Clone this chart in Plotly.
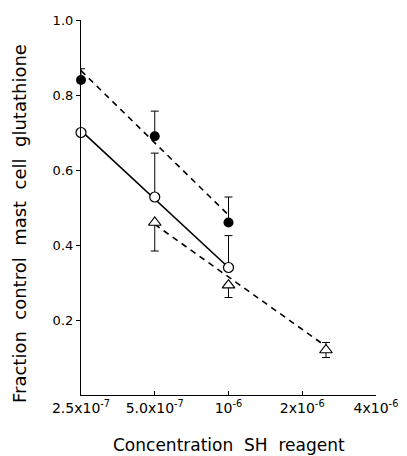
import numpy as np
import plotly.graph_objects as go

# Data
conc_filled = [2.5e-7, 5e-7, 1e-6]
frac_filled = [0.84, 0.69, 0.46]
err_filled_up = [0.03, 0.067, 0.068]
err_filled_dn = [0.0, 0.0, 0.0]

conc_open = [2.5e-7, 5e-7, 1e-6]
frac_open = [0.70, 0.528, 0.34]
err_open_up = [0.0, 0.117, 0.085]
err_open_dn = [0.0, 0.0, 0.0]

conc_tri = [5e-7, 1e-6, 2.5e-6]
frac_tri = [0.46, 0.293, 0.12]
err_tri_up = [0.0, 0.0, 0.02]
err_tri_dn = [0.076, 0.033, 0.02]

# fitted lines (endpoints)
fit_filled_x = [2.5e-7, 1e-6]
fit_filled_y = [0.865, 0.48]
fit_open_x = [2.5e-7, 1e-6]
fit_open_y = [0.705, 0.34]
fit_tri_x = [5e-7, 2.4e-6]
fit_tri_y = [0.455, 0.138]

xtick_vals = [2.5e-7, 5e-7, 1e-6, 2e-6, 4e-6]
xtick_text = ["2.5x10<sup>-7</sup>", "5.0x10<sup>-7</sup>", "10<sup>-6</sup>",
              "2x10<sup>-6</sup>", "4x10<sup>-6</sup>"]
ytick_vals = [0.2, 0.4, 0.6, 0.8, 1.0]
ytick_text = ["0.2", "0.4", "0.6", "0.8", "1.0"]

x_title = "Concentration  SH  reagent"
y_title = "Fraction  control  mast  cell  glutathione"

FONT = "DejaVu Sans"
fig = go.Figure()

fig.add_trace(go.Scatter(x=fit_filled_x, y=fit_filled_y, mode="lines",
                         line=dict(color="black", width=1.6, dash="6px,5px"),
                         showlegend=False, cliponaxis=False))
fig.add_trace(go.Scatter(x=fit_open_x, y=fit_open_y, mode="lines",
                         line=dict(color="black", width=1.6),
                         showlegend=False, cliponaxis=False))
fig.add_trace(go.Scatter(x=fit_tri_x, y=fit_tri_y, mode="lines",
                         line=dict(color="black", width=1.6, dash="6px,5px"),
                         showlegend=False, cliponaxis=False))

fig.add_trace(go.Scatter(x=conc_filled, y=frac_filled, mode="markers",
                         marker=dict(symbol="circle", size=10, color="black"),
                         error_y=dict(type="data", symmetric=False, array=err_filled_up,
                                      arrayminus=err_filled_dn, color="black",
                                      thickness=1, width=4),
                         showlegend=False, cliponaxis=False))
fig.add_trace(go.Scatter(x=conc_open, y=frac_open, mode="markers",
                         marker=dict(symbol="circle", size=10, color="white",
                                     line=dict(color="black", width=1.2)),
                         error_y=dict(type="data", symmetric=False, array=err_open_up,
                                      arrayminus=err_open_dn, color="black",
                                      thickness=1, width=4),
                         showlegend=False, cliponaxis=False))
fig.add_trace(go.Scatter(x=conc_tri, y=frac_tri, mode="markers",
                         marker=dict(symbol="triangle-up", size=11, color="white",
                                     line=dict(color="black", width=1.2)),
                         error_y=dict(type="data", symmetric=False, array=err_tri_up,
                                      arrayminus=err_tri_dn, color="black",
                                      thickness=1, width=4),
                         showlegend=False, cliponaxis=False))

fig.update_xaxes(type="log", range=[np.log10(2.5e-7), np.log10(4e-6)],
                 tickvals=xtick_vals, ticktext=xtick_text,
                 ticks="inside", ticklen=4, tickcolor="black",
                 showline=True, linecolor="black", linewidth=1.2,
                 showgrid=False, zeroline=False, automargin=False,
                 tickfont=dict(family=FONT, size=14, color="black"))
fig.update_yaxes(range=[0, 1.0], tickvals=ytick_vals, ticktext=ytick_text,
                 ticks="outside", ticklen=4, tickcolor="black",
                 showline=True, linecolor="black", linewidth=1.2,
                 showgrid=False, zeroline=False, automargin=False,
                 tickfont=dict(family=FONT, size=13, color="black"))

fig.add_annotation(text=x_title, xref="paper", yref="paper", x=0.502, y=0,
                   xanchor="center", yanchor="middle", yshift=-50, showarrow=False,
                   font=dict(family=FONT, size=17, color="black"))
fig.add_annotation(text=y_title, xref="paper", yref="paper", x=0, y=0.456,
                   xanchor="center", yanchor="middle", xshift=-62, textangle=-90,
                   showarrow=False, font=dict(family=FONT, size=18, color="black"))

# page body has an 8px margin, so the figure is 8px smaller than the window
fig.update_layout(width=399, height=448,
                  margin=dict(l=73, r=31, t=12, b=61),
                  paper_bgcolor="white", plot_bgcolor="white")

fig.write_html("out.html")
